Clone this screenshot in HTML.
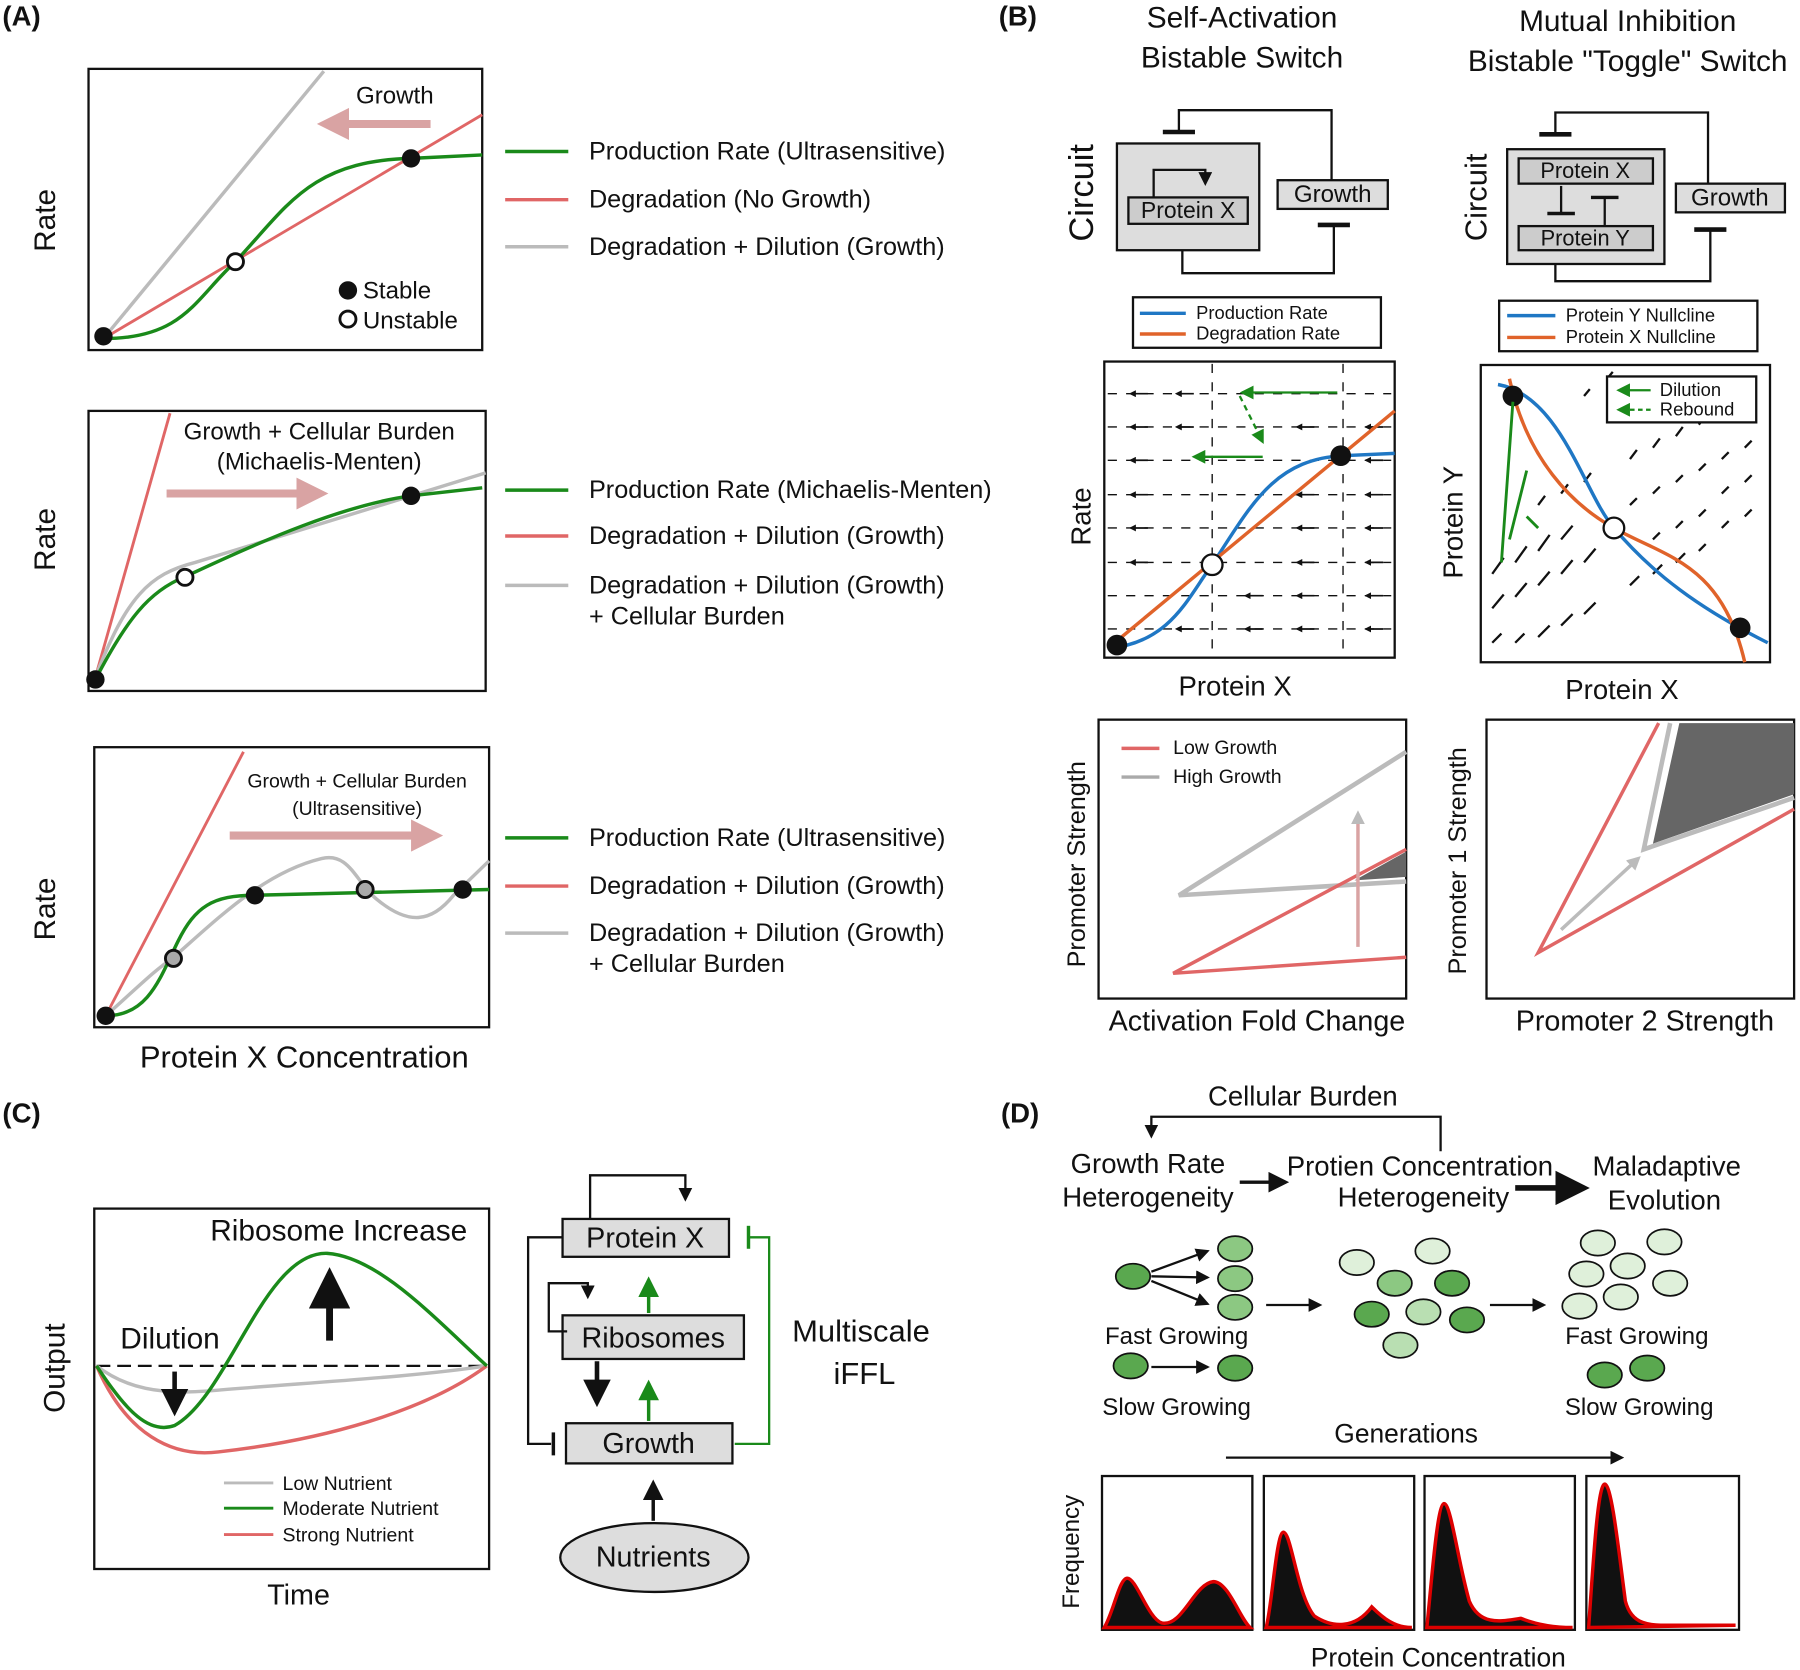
<!DOCTYPE html>
<html><head><meta charset="utf-8"><style>html,body{margin:0;padding:0;background:#fff}svg{display:block}text{font-family:"Liberation Sans",sans-serif;fill:#111}</style></head><body>
<svg width="1800" height="1670" viewBox="0 0 1568 1455" xmlns="http://www.w3.org/2000/svg">
<defs>
<marker id="ah" markerWidth="6" markerHeight="6" refX="5" refY="3" orient="auto"><path d="M0,0L6,3L0,6z" fill="#111"/></marker>
<marker id="as" markerWidth="4" markerHeight="4" refX="3" refY="2" orient="auto"><path d="M0,0L4,2L0,4z" fill="#111"/></marker>
<marker id="ag" markerWidth="6" markerHeight="6" refX="5" refY="3" orient="auto"><path d="M0,0L6,3L0,6z" fill="#1a8a1a"/></marker>
<marker id="ap" markerWidth="4" markerHeight="4" refX="2" refY="2" orient="auto"><path d="M0,0L4,2L0,4z" fill="#d9a3a3"/></marker>
<marker id="agr" markerWidth="4" markerHeight="4" refX="2" refY="2" orient="auto"><path d="M0,0L4,2L0,4z" fill="#bbb"/></marker>
</defs>
<g font-size="21">
<text x="2" y="22" font-size="24" font-weight="bold">(A)</text>
<text x="870" y="22" font-size="24" font-weight="bold">(B)</text>
<text x="2" y="978" font-size="24" font-weight="bold">(C)</text>
<text x="872" y="978" font-size="24" font-weight="bold">(D)</text>

<!-- A1 -->
<rect x="77" y="60" width="343" height="245" fill="none" stroke="#111" stroke-width="2"/>
<line x1="90" y1="295" x2="282" y2="62" stroke="#bbb" stroke-width="3"/>
<line x1="90" y1="295" x2="420" y2="100" stroke="#e06666" stroke-width="2.5"/>
<path d="M90,295 C160,295 170,260 205,228 C250,180 270,140 358,138 L420,135" fill="none" stroke="#1a8a1a" stroke-width="3"/>
<circle cx="90" cy="293" r="8" fill="#111"/><circle cx="358" cy="138" r="8" fill="#111"/><circle cx="205" cy="228" r="7" fill="#fff" stroke="#111" stroke-width="2.5"/>
<text x="310" y="90" font-size="21">Growth</text>
<line x1="375" y1="108" x2="290" y2="108" stroke="#d9a3a3" stroke-width="7" marker-end="url(#ap)"/>
<circle cx="303" cy="253" r="8" fill="#111"/><text x="316" y="260" font-size="21">Stable</text>
<circle cx="303" cy="278" r="7" fill="#fff" stroke="#111" stroke-width="2.5"/><text x="316" y="286" font-size="21">Unstable</text>
<text transform="translate(48,192) rotate(-90)" text-anchor="middle" font-size="26">Rate</text>
<g font-size="22">
<line x1="440" y1="132" x2="495" y2="132" stroke="#1a8a1a" stroke-width="3"/><text x="513" y="139">Production Rate (Ultrasensitive)</text>
<line x1="440" y1="174" x2="495" y2="174" stroke="#e06666" stroke-width="3"/><text x="513" y="181">Degradation (No Growth)</text>
<line x1="440" y1="215" x2="495" y2="215" stroke="#bbb" stroke-width="3"/><text x="513" y="222">Degradation + Dilution (Growth)</text>
</g>

<!-- A2 -->
<rect x="77" y="358" width="346" height="244" fill="none" stroke="#111" stroke-width="2"/>
<line x1="83" y1="590" x2="148" y2="360" stroke="#e06666" stroke-width="2.5"/>
<path d="M83,590 C110,520 130,500 170,490 C250,465 330,440 423,412" fill="none" stroke="#bbb" stroke-width="3"/>
<path d="M83,592 C110,540 130,515 160,503 C230,470 300,440 358,432 L420,425" fill="none" stroke="#1a8a1a" stroke-width="3"/>
<circle cx="83" cy="592" r="8" fill="#111"/><circle cx="358" cy="432" r="8" fill="#111"/><circle cx="161" cy="503" r="7" fill="#fff" stroke="#111" stroke-width="2.5"/>
<text x="278" y="383" text-anchor="middle" font-size="21">Growth + Cellular Burden</text>
<text x="278" y="409" text-anchor="middle" font-size="21">(Michaelis-Menten)</text>
<line x1="145" y1="430" x2="272" y2="430" stroke="#d9a3a3" stroke-width="7" marker-end="url(#ap)"/>
<text transform="translate(48,470) rotate(-90)" text-anchor="middle" font-size="26">Rate</text>
<g font-size="22">
<line x1="440" y1="427" x2="495" y2="427" stroke="#1a8a1a" stroke-width="3"/><text x="513" y="434">Production Rate (Michaelis-Menten)</text>
<line x1="440" y1="467" x2="495" y2="467" stroke="#e06666" stroke-width="3"/><text x="513" y="474">Degradation + Dilution (Growth)</text>
<line x1="440" y1="510" x2="495" y2="510" stroke="#bbb" stroke-width="3"/><text x="513" y="517">Degradation + Dilution (Growth)</text><text x="513" y="544">+ Cellular Burden</text>
</g>

<!-- A3 -->
<rect x="82" y="651" width="344" height="244" fill="none" stroke="#111" stroke-width="2"/>
<line x1="92" y1="885" x2="212" y2="655" stroke="#e06666" stroke-width="2.5"/>
<path d="M92,885 C120,860 135,845 150,835 C190,800 230,760 280,748 C305,742 310,770 330,785 C355,805 375,805 395,780 L426,750" fill="none" stroke="#bbb" stroke-width="3"/>
<path d="M92,885 C130,885 140,850 155,820 C170,790 185,780 222,780 L426,775" fill="none" stroke="#1a8a1a" stroke-width="3"/>
<circle cx="92" cy="885" r="8" fill="#111"/><circle cx="222" cy="780" r="8" fill="#111"/><circle cx="403" cy="775" r="8" fill="#111"/>
<circle cx="151" cy="835" r="7" fill="#aaa" stroke="#111" stroke-width="2.5"/><circle cx="318" cy="775" r="7" fill="#aaa" stroke="#111" stroke-width="2.5"/>
<text x="311" y="686" text-anchor="middle" font-size="17">Growth + Cellular Burden</text>
<text x="311" y="710" text-anchor="middle" font-size="17">(Ultrasensitive)</text>
<line x1="200" y1="728" x2="372" y2="728" stroke="#d9a3a3" stroke-width="7" marker-end="url(#ap)"/>
<text transform="translate(48,792) rotate(-90)" text-anchor="middle" font-size="26">Rate</text>
<text x="265" y="930" text-anchor="middle" font-size="27">Protein X Concentration</text>
<g font-size="22">
<line x1="440" y1="730" x2="495" y2="730" stroke="#1a8a1a" stroke-width="3"/><text x="513" y="737">Production Rate (Ultrasensitive)</text>
<line x1="440" y1="772" x2="495" y2="772" stroke="#e06666" stroke-width="3"/><text x="513" y="779">Degradation + Dilution (Growth)</text>
<line x1="440" y1="813" x2="495" y2="813" stroke="#bbb" stroke-width="3"/><text x="513" y="820">Degradation + Dilution (Growth)</text><text x="513" y="847">+ Cellular Burden</text>
</g>

<!-- B titles -->
<text x="1082" y="24" text-anchor="middle" font-size="26">Self-Activation</text>
<text x="1082" y="59" text-anchor="middle" font-size="26">Bistable Switch</text>
<text x="1418" y="27" text-anchor="middle" font-size="26">Mutual Inhibition</text>
<text x="1418" y="62" text-anchor="middle" font-size="26">Bistable "Toggle" Switch</text>
<text transform="translate(952,168) rotate(-90)" text-anchor="middle" font-size="30">Circuit</text>
<text transform="translate(1295,172) rotate(-90)" text-anchor="middle" font-size="27">Circuit</text>

<!-- left circuit -->
<rect x="973" y="125" width="124" height="93" fill="#ddd" stroke="#111" stroke-width="2"/>
<rect x="983" y="172" width="104" height="23" fill="#ccc" stroke="#111" stroke-width="2"/>
<text x="1035" y="190" text-anchor="middle" font-size="20">Protein X</text>
<path d="M1005,172 V148 H1050 V160" fill="none" stroke="#111" stroke-width="2" marker-end="url(#ah)"/>
<rect x="1113" y="157" width="96" height="25" fill="#ddd" stroke="#111" stroke-width="2"/>
<text x="1161" y="176" text-anchor="middle" font-size="21">Growth</text>
<path d="M1160,157 V96 H1027 V115" fill="none" stroke="#111" stroke-width="2"/><line x1="1013" y1="115" x2="1041" y2="115" stroke="#111" stroke-width="4"/>
<path d="M1030,218 V238 H1162 V197" fill="none" stroke="#111" stroke-width="2"/><line x1="1148" y1="196" x2="1176" y2="196" stroke="#111" stroke-width="4"/>

<!-- right circuit -->
<rect x="1313" y="130" width="137" height="100" fill="#ddd" stroke="#111" stroke-width="2"/>
<rect x="1323" y="138" width="117" height="22" fill="#ccc" stroke="#111" stroke-width="2"/><text x="1381" y="155" text-anchor="middle" font-size="19">Protein X</text>
<rect x="1323" y="197" width="117" height="21" fill="#ccc" stroke="#111" stroke-width="2"/><text x="1381" y="214" text-anchor="middle" font-size="19">Protein Y</text>
<path d="M1360,162 V186" stroke="#111" stroke-width="2"/><line x1="1348" y1="186" x2="1372" y2="186" stroke="#111" stroke-width="3"/>
<path d="M1398,196 V172" stroke="#111" stroke-width="2"/><line x1="1386" y1="172" x2="1410" y2="172" stroke="#111" stroke-width="3"/>
<rect x="1460" y="160" width="95" height="25" fill="#ddd" stroke="#111" stroke-width="2"/><text x="1507" y="179" text-anchor="middle" font-size="21">Growth</text>
<path d="M1488,160 V98 H1355 V117" fill="none" stroke="#111" stroke-width="2"/><line x1="1341" y1="117" x2="1369" y2="117" stroke="#111" stroke-width="4"/>
<path d="M1355,230 V245 H1490 V200" fill="none" stroke="#111" stroke-width="2"/><line x1="1476" y1="200" x2="1504" y2="200" stroke="#111" stroke-width="4"/>

<!-- legends B -->
<rect x="987" y="259" width="216" height="44" fill="#fff" stroke="#111" stroke-width="2"/>
<line x1="993" y1="273" x2="1033" y2="273" stroke="#1f77c4" stroke-width="3"/><text x="1042" y="278" font-size="16">Production Rate</text>
<line x1="993" y1="291" x2="1033" y2="291" stroke="#e0632a" stroke-width="3"/><text x="1042" y="296" font-size="16">Degradation Rate</text>
<rect x="1306" y="262" width="225" height="44" fill="#fff" stroke="#111" stroke-width="2"/>
<line x1="1313" y1="275" x2="1355" y2="275" stroke="#1f77c4" stroke-width="3"/><text x="1364" y="280" font-size="16">Protein Y Nullcline</text>
<line x1="1313" y1="294" x2="1355" y2="294" stroke="#e0632a" stroke-width="3"/><text x="1364" y="299" font-size="16">Protein X Nullcline</text>

<!-- B left plot -->
<rect x="962" y="315" width="253" height="258" fill="#fff" stroke="#111" stroke-width="2"/>
<g stroke="#111" stroke-width="1.2" stroke-dasharray="8,8">
<line x1="1056" y1="317" x2="1056" y2="571"/><line x1="1170" y1="317" x2="1170" y2="571"/>
<line x1="965" y1="343" x2="1212" y2="343"/><line x1="965" y1="372" x2="1212" y2="372"/><line x1="965" y1="401" x2="1212" y2="401"/><line x1="965" y1="431" x2="1212" y2="431"/><line x1="965" y1="460" x2="1212" y2="460"/><line x1="965" y1="490" x2="1212" y2="490"/><line x1="965" y1="519" x2="1212" y2="519"/><line x1="965" y1="548" x2="1212" y2="548"/>
</g>
<g stroke="#111" stroke-width="1.5" marker-end="url(#as)">
<line x1="1000" y1="343" x2="985" y2="343"/><line x1="1040" y1="343" x2="1025" y2="343"/><line x1="1000" y1="372" x2="985" y2="372"/><line x1="1040" y1="372" x2="1025" y2="372"/><line x1="1145" y1="372" x2="1130" y2="372"/><line x1="1205" y1="372" x2="1190" y2="372"/><line x1="1000" y1="401" x2="985" y2="401"/><line x1="1205" y1="401" x2="1190" y2="401"/><line x1="1000" y1="431" x2="985" y2="431"/><line x1="1145" y1="431" x2="1130" y2="431"/><line x1="1205" y1="431" x2="1190" y2="431"/><line x1="1000" y1="460" x2="985" y2="460"/><line x1="1145" y1="460" x2="1130" y2="460"/><line x1="1205" y1="460" x2="1190" y2="460"/><line x1="1000" y1="490" x2="985" y2="490"/><line x1="1145" y1="490" x2="1130" y2="490"/><line x1="1205" y1="490" x2="1190" y2="490"/><line x1="1100" y1="519" x2="1085" y2="519"/><line x1="1145" y1="519" x2="1130" y2="519"/><line x1="1205" y1="519" x2="1190" y2="519"/><line x1="1100" y1="548" x2="1085" y2="548"/><line x1="1145" y1="548" x2="1130" y2="548"/><line x1="1205" y1="548" x2="1190" y2="548"/><line x1="1040" y1="548" x2="1025" y2="548"/>
</g>
<path d="M965,565 C1020,560 1035,520 1056,492 C1090,440 1110,400 1170,397 L1215,395" fill="none" stroke="#1f77c4" stroke-width="3"/>
<line x1="965" y1="565" x2="1215" y2="358" stroke="#e0632a" stroke-width="3"/>
<circle cx="973" cy="562" r="9" fill="#111"/><circle cx="1168" cy="397" r="9" fill="#111"/><circle cx="1056" cy="492" r="9" fill="#fff" stroke="#111" stroke-width="2"/>
<g stroke="#1a8a1a" stroke-width="2" fill="none">
<line x1="1165" y1="342" x2="1082" y2="342" marker-end="url(#ag)"/><path d="M1080,345 L1100,385" stroke-dasharray="5,4" marker-end="url(#ag)"/>
<line x1="1100" y1="398" x2="1040" y2="398" marker-end="url(#ag)"/>
</g>
<text transform="translate(950,450) rotate(-90)" text-anchor="middle" font-size="24">Rate</text>
<text x="1076" y="606" text-anchor="middle" font-size="24">Protein X</text>

<!-- B right plot -->
<rect x="1290" y="318" width="252" height="259" fill="#fff" stroke="#111" stroke-width="2"/>
<g stroke="#111" stroke-width="2">
<path d="M1300,560l8,-8M1320,560l8,-8M1340,555l10,-10M1360,545l10,-10M1380,535l10,-10M1420,510l8,-8M1440,500l8,-8M1460,490l8,-8M1480,480l6,-6M1300,530l10,-12M1320,520l10,-12M1340,510l10,-12M1360,500l10,-12M1380,490l10,-12M1300,500l10,-14M1320,490l10,-14M1340,480l10,-14M1360,470l10,-12M1420,440l6,-6M1440,430l6,-6M1460,420l6,-6M1480,410l6,-6M1500,400l6,-6M1520,390l6,-6M1340,440l6,-8M1360,430l6,-8M1380,420l6,-8M1420,400l6,-8M1440,390l6,-8M1460,380l6,-8M1480,370l6,-8M1500,360l6,-6M1520,350l6,-6M1420,360l5,-6M1440,350l5,-6M1460,340l5,-6M1400,330l5,-6M1380,345l5,-6M1500,430l6,-6M1520,420l6,-6M1500,460l6,-6M1520,450l6,-6M1440,470l6,-6M1460,460l6,-6M1480,450l6,-6"/>
</g>
<path d="M1305,335 C1360,345 1380,430 1406,460 C1440,500 1480,530 1540,560" fill="none" stroke="#1f77c4" stroke-width="3"/>
<path d="M1315,330 C1330,400 1370,440 1406,460 C1450,485 1500,490 1520,577" fill="none" stroke="#e0632a" stroke-width="3"/>
<circle cx="1318" cy="345" r="9" fill="#111"/><circle cx="1516" cy="547" r="9" fill="#111"/><circle cx="1406" cy="460" r="9" fill="#fff" stroke="#111" stroke-width="2"/>
<path d="M1318,350 L1308,490 M1330,410 L1315,470 M1330,450 L1340,460" stroke="#1a8a1a" stroke-width="2.5" fill="none"/>
<rect x="1400" y="328" width="130" height="40" fill="#fff" stroke="#111" stroke-width="2"/>
<line x1="1438" y1="340" x2="1410" y2="340" stroke="#1a8a1a" stroke-width="2" marker-end="url(#ag)"/><text x="1446" y="345" font-size="16">Dilution</text>
<line x1="1438" y1="357" x2="1410" y2="357" stroke="#1a8a1a" stroke-width="2" stroke-dasharray="4,3" marker-end="url(#ag)"/><text x="1446" y="362" font-size="16">Rebound</text>
<text transform="translate(1274,455) rotate(-90)" text-anchor="middle" font-size="24">Protein Y</text>
<text x="1413" y="609" text-anchor="middle" font-size="24">Protein X</text>

<!-- B bottom left -->
<rect x="957" y="627" width="268" height="243" fill="#fff" stroke="#111" stroke-width="2"/>
<line x1="977" y1="652" x2="1010" y2="652" stroke="#e06666" stroke-width="3"/><text x="1022" y="657" font-size="17">Low Growth</text>
<line x1="977" y1="677" x2="1010" y2="677" stroke="#aaa" stroke-width="3"/><text x="1022" y="682" font-size="17">High Growth</text>
<path d="M1225,655 L1027,780 L1225,768" fill="none" stroke="#bbb" stroke-width="4"/>
<path d="M1225,740 L1022,848 L1225,834" fill="none" stroke="#e06666" stroke-width="3"/>
<path d="M1225,742 L1180,767 L1225,764z" fill="#666"/>
<line x1="1183" y1="825" x2="1183" y2="712" stroke="#d9a3a3" stroke-width="3" marker-end="url(#agr)"/>
<text transform="translate(945,753) rotate(-90)" text-anchor="middle" font-size="22">Promoter Strength</text>
<text x="1095" y="898" text-anchor="middle" font-size="25">Activation Fold Change</text>

<!-- B bottom right -->
<rect x="1295" y="627" width="268" height="243" fill="#fff" stroke="#111" stroke-width="2"/>
<path d="M1445,630 L1340,830 L1563,705" fill="none" stroke="#e06666" stroke-width="3"/>
<path d="M1455,630 L1432,740 L1563,695" fill="none" stroke="#bbb" stroke-width="4"/>
<path d="M1463,630 L1440,735 L1563,692 L1563,630z" fill="#666"/>
<line x1="1360" y1="810" x2="1425" y2="750" stroke="#bbb" stroke-width="3" marker-end="url(#agr)"/>
<text transform="translate(1277,750) rotate(-90)" text-anchor="middle" font-size="22">Promoter 1 Strength</text>
<text x="1433" y="898" text-anchor="middle" font-size="25">Promoter 2 Strength</text>

<!-- C -->
<rect x="82" y="1053" width="344" height="314" fill="#fff" stroke="#111" stroke-width="2"/>
<line x1="84" y1="1190" x2="424" y2="1190" stroke="#111" stroke-width="2" stroke-dasharray="12,6"/>
<path d="M84,1190 C110,1210 140,1215 180,1212 C260,1205 360,1200 424,1190" fill="none" stroke="#bbb" stroke-width="3"/>
<path d="M84,1190 C110,1250 150,1270 190,1265 C280,1255 370,1230 424,1190" fill="none" stroke="#e06666" stroke-width="3"/>
<path d="M84,1190 C110,1230 130,1250 152,1242 C200,1215 230,1090 285,1092 C330,1095 380,1150 424,1190" fill="none" stroke="#1a8a1a" stroke-width="3"/>
<line x1="152" y1="1195" x2="152" y2="1230" stroke="#111" stroke-width="4" marker-end="url(#ah)"/>
<line x1="287" y1="1168" x2="287" y2="1110" stroke="#111" stroke-width="6" marker-end="url(#ah)"/>
<text x="295" y="1081" text-anchor="middle" font-size="26">Ribosome Increase</text>
<text x="148" y="1175" text-anchor="middle" font-size="26">Dilution</text>
<g font-size="17">
<line x1="195" y1="1292" x2="238" y2="1292" stroke="#bbb" stroke-width="2.5"/><text x="246" y="1298">Low Nutrient</text>
<line x1="195" y1="1314" x2="238" y2="1314" stroke="#1a8a1a" stroke-width="2.5"/><text x="246" y="1320">Moderate Nutrient</text>
<line x1="195" y1="1337" x2="238" y2="1337" stroke="#e06666" stroke-width="2.5"/><text x="246" y="1343">Strong Nutrient</text>
</g>
<text transform="translate(56,1192) rotate(-90)" text-anchor="middle" font-size="26">Output</text>
<text x="260" y="1398" text-anchor="middle" font-size="25">Time</text>

<rect x="490" y="1062" width="145" height="33" fill="#ddd" stroke="#111" stroke-width="2"/><text x="562" y="1087" text-anchor="middle" font-size="25">Protein X</text>
<rect x="490" y="1146" width="158" height="38" fill="#ddd" stroke="#111" stroke-width="2"/><text x="569" y="1174" text-anchor="middle" font-size="25">Ribosomes</text>
<rect x="493" y="1240" width="145" height="35" fill="#ddd" stroke="#111" stroke-width="2"/><text x="565" y="1266" text-anchor="middle" font-size="25">Growth</text>
<ellipse cx="570" cy="1357" rx="82" ry="30" fill="#ddd" stroke="#111" stroke-width="2"/><text x="569" y="1365" text-anchor="middle" font-size="25">Nutrients</text>
<path d="M514,1062 V1024 H597 V1045" fill="none" stroke="#111" stroke-width="2" marker-end="url(#ah)"/>
<path d="M490,1078 H460 V1258 H480" fill="none" stroke="#111" stroke-width="2"/><line x1="482" y1="1248" x2="482" y2="1268" stroke="#111" stroke-width="3"/>
<path d="M494,1160 H478 V1118 H512 V1130" fill="none" stroke="#111" stroke-width="2" marker-end="url(#ah)"/>
<line x1="565" y1="1144" x2="565" y2="1115" stroke="#1a8a1a" stroke-width="3" marker-end="url(#ag)"/>
<line x1="565" y1="1238" x2="565" y2="1205" stroke="#1a8a1a" stroke-width="3" marker-end="url(#ag)"/>
<line x1="520" y1="1186" x2="520" y2="1222" stroke="#111" stroke-width="4" marker-end="url(#ah)"/>
<line x1="569" y1="1325" x2="569" y2="1292" stroke="#111" stroke-width="3" marker-end="url(#ah)"/>
<path d="M640,1258 H670 V1078 H653" fill="none" stroke="#1a8a1a" stroke-width="2"/><line x1="652" y1="1068" x2="652" y2="1088" stroke="#1a8a1a" stroke-width="3"/>
<text x="750" y="1169" text-anchor="middle" font-size="27">Multiscale</text>
<text x="753" y="1206" text-anchor="middle" font-size="27">iFFL</text>

<!-- D -->
<text x="1135" y="963" text-anchor="middle" font-size="24">Cellular Burden</text>
<path d="M1255,1003 V973 H1003 V990" fill="none" stroke="#111" stroke-width="2" marker-end="url(#ah)"/>
<text x="1000" y="1022" text-anchor="middle" font-size="24">Growth Rate</text><text x="1000" y="1051" text-anchor="middle" font-size="24">Heterogeneity</text>
<text x="1237" y="1024" text-anchor="middle" font-size="24">Protien Concentration</text><text x="1240" y="1051" text-anchor="middle" font-size="24">Heterogeneity</text>
<text x="1452" y="1024" text-anchor="middle" font-size="24">Maladaptive</text><text x="1450" y="1054" text-anchor="middle" font-size="24">Evolution</text>
<line x1="1080" y1="1030" x2="1120" y2="1030" stroke="#111" stroke-width="3" marker-end="url(#ah)"/>
<line x1="1320" y1="1035" x2="1380" y2="1035" stroke="#111" stroke-width="5" marker-end="url(#ah)"/>
<g stroke="#111" stroke-width="1.5">
<ellipse cx="987" cy="1112" rx="15" ry="11" fill="#5aa84f"/>
<ellipse cx="1076" cy="1088" rx="15" ry="11" fill="#8cc882"/><ellipse cx="1076" cy="1114" rx="15" ry="11" fill="#8cc882"/><ellipse cx="1076" cy="1139" rx="15" ry="11" fill="#8cc882"/>
<ellipse cx="985" cy="1190" rx="15" ry="11" fill="#5aa84f"/><ellipse cx="1076" cy="1192" rx="15" ry="11" fill="#5aa84f"/>
<ellipse cx="1182" cy="1100" rx="15" ry="11" fill="#dff0da"/><ellipse cx="1248" cy="1090" rx="15" ry="11" fill="#dff0da"/><ellipse cx="1215" cy="1118" rx="15" ry="11" fill="#8cc882"/><ellipse cx="1265" cy="1118" rx="15" ry="11" fill="#5aa84f"/><ellipse cx="1195" cy="1145" rx="15" ry="11" fill="#5aa84f"/><ellipse cx="1240" cy="1143" rx="15" ry="11" fill="#b9dfb2"/><ellipse cx="1278" cy="1150" rx="15" ry="11" fill="#5aa84f"/><ellipse cx="1220" cy="1172" rx="15" ry="11" fill="#b9dfb2"/>
<ellipse cx="1392" cy="1083" rx="15" ry="11" fill="#dff0da"/><ellipse cx="1450" cy="1082" rx="15" ry="11" fill="#dff0da"/><ellipse cx="1418" cy="1103" rx="15" ry="11" fill="#dff0da"/><ellipse cx="1382" cy="1110" rx="15" ry="11" fill="#dff0da"/><ellipse cx="1455" cy="1118" rx="15" ry="11" fill="#dff0da"/><ellipse cx="1412" cy="1130" rx="15" ry="11" fill="#dff0da"/><ellipse cx="1376" cy="1138" rx="15" ry="11" fill="#dff0da"/>
<ellipse cx="1398" cy="1198" rx="15" ry="11" fill="#5aa84f"/><ellipse cx="1435" cy="1192" rx="15" ry="11" fill="#5aa84f"/>
</g>
<g stroke="#111" stroke-width="2" fill="none">
<line x1="1003" y1="1108" x2="1052" y2="1090" marker-end="url(#ah)"/><line x1="1003" y1="1112" x2="1052" y2="1113" marker-end="url(#ah)"/><line x1="1003" y1="1116" x2="1052" y2="1136" marker-end="url(#ah)"/>
<line x1="1003" y1="1191" x2="1052" y2="1191" marker-end="url(#ah)"/>
<line x1="1103" y1="1137" x2="1150" y2="1137" marker-end="url(#ah)"/><line x1="1298" y1="1137" x2="1345" y2="1137" marker-end="url(#ah)"/>
<line x1="1068" y1="1270" x2="1413" y2="1270" marker-end="url(#ah)"/>
</g>
<text x="1025" y="1171" text-anchor="middle" font-size="21">Fast Growing</text><text x="1025" y="1233" text-anchor="middle" font-size="21">Slow Growing</text>
<text x="1426" y="1171" text-anchor="middle" font-size="21">Fast Growing</text><text x="1428" y="1233" text-anchor="middle" font-size="21">Slow Growing</text>
<text x="1225" y="1257" text-anchor="middle" font-size="23">Generations</text>
<g stroke="#111" stroke-width="2" fill="#fff">
<rect x="960" y="1286" width="131" height="134"/><rect x="1101" y="1286" width="131" height="134"/><rect x="1241" y="1286" width="131" height="134"/><rect x="1382" y="1286" width="133" height="134"/>
</g>
<path d="M962,1418 C970,1405 975,1375 982,1375 C990,1375 1000,1410 1012,1414 C1030,1418 1040,1380 1057,1378 C1070,1378 1080,1410 1089,1418Z" fill="#111" stroke="#d00" stroke-width="3"/>
<path d="M1103,1418 C1108,1400 1112,1335 1118,1335 C1125,1335 1130,1390 1145,1408 C1160,1418 1180,1420 1195,1400 C1205,1410 1215,1418 1230,1418Z" fill="#111" stroke="#d00" stroke-width="3"/>
<path d="M1243,1418 C1247,1380 1252,1310 1258,1310 C1264,1310 1270,1360 1280,1395 C1290,1418 1310,1412 1325,1410 C1335,1414 1350,1418 1370,1418Z" fill="#111" stroke="#d00" stroke-width="3"/>
<path d="M1384,1418 C1388,1360 1392,1293 1398,1293 C1404,1293 1410,1350 1416,1395 C1422,1418 1440,1416 1460,1416 L1512,1416Z" fill="#111" stroke="#d00" stroke-width="3"/>
<text transform="translate(940,1352) rotate(-90)" text-anchor="middle" font-size="21">Frequency</text>
<text x="1253" y="1452" text-anchor="middle" font-size="23">Protein Concentration</text>
</g>
</svg>
</body></html>
